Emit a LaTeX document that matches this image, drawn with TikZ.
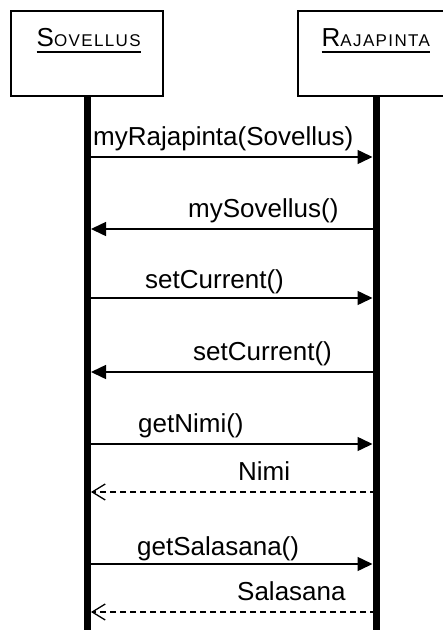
\documentclass[tikz,border=0pt]{standalone}
\usepackage{fontspec}
\setmainfont{Liberation Sans}
\newfontfamily\hdrfont[LetterSpace=8]{Liberation Sans}
\usetikzlibrary{arrows.meta}
\begin{document}
\begin{tikzpicture}[x=1pt,y=-1pt,
  objbox/.style={draw, line width=2.5pt, minimum width=152pt, minimum height=85pt, inner sep=0pt},
  lifeline/.style={line width=7pt},
  call/.style={line width=1.5pt, -{Triangle[length=15pt,width=14pt]}},
  reply/.style={line width=1.5pt, dash pattern=on 6pt off 4pt, -{Straight Barb[length=13pt,width=16pt,line width=1.3pt]}},
  msg/.style={font=\fontsize{26}{30}\selectfont, anchor=base west, inner sep=0pt},
  hdr/.style={anchor=base west, inner sep=0pt},
  uline/.style={line width=1.5pt}]
\useasboundingbox (0,0) rectangle (443,630);
\node[objbox] (sov) at (87,53.5) {};
\node[objbox] (raj) at (374,53.5) {};
\node[hdr] (sovt) at (36.5,46.5) {\fontsize{26}{30}\selectfont S{\hdrfont\fontsize{17}{20}\selectfont OVELLUS}};
\node[hdr] (rajt) at (321.5,46.5) {\fontsize{26}{30}\selectfont R{\hdrfont\fontsize{17}{20}\selectfont AJAPINTA}};
\draw[uline] ([yshift=-5.5pt]sovt.base west) -- ([yshift=-5.5pt]sovt.base east);
\draw[uline] ([yshift=-5.5pt]rajt.base west) -- ([yshift=-5.5pt]rajt.base east);
% lifelines
\coordinate (sovEnd) at (87.5,632);
\coordinate (rajEnd) at (376,632);
\coordinate (sovTop) at (87.5,96);
\coordinate (rajTop) at (376,96);
\draw[lifeline] (sovTop) -- (sovEnd);
\draw[lifeline] (rajTop) -- (rajEnd);
% message endpoints
\coordinate (m1a) at (84,157);   \coordinate (m1b) at (372.5,157);
\coordinate (m2a) at (376,229);  \coordinate (m2b) at (91,229);
\coordinate (m3a) at (84,298);   \coordinate (m3b) at (372.5,298);
\coordinate (m4a) at (376,372);  \coordinate (m4b) at (91,372);
\coordinate (m5a) at (84,444);   \coordinate (m5b) at (372.5,444);
\coordinate (m6a) at (376,492);  \coordinate (m6b) at (91,492);
\coordinate (m7a) at (84,564);   \coordinate (m7b) at (372.5,564);
\coordinate (m8a) at (376,612);  \coordinate (m8b) at (91,612);
\draw[call] (m1a) -- (m1b);
\draw[call] (m2a) -- (m2b);
\draw[call] (m3a) -- (m3b);
\draw[call] (m4a) -- (m4b);
\draw[call] (m5a) -- (m5b);
\draw[reply] (m6a) -- (m6b);
\draw[call] (m7a) -- (m7b);
\draw[reply] (m8a) -- (m8b);
% labels
\node[msg] (l1) at (93,145) {myRajapinta(Sovellus)};
\node[msg] (l2) at (188,217) {mySovellus()};
\node[msg] (l3) at (145,288) {setCurrent()};
\node[msg] (l4) at (193,360) {setCurrent()};
\node[msg] (l5) at (138,432) {getNimi()};
\node[msg] (l6) at (238,480) {Nimi};
\node[msg] (l7) at (137,555) {getSalasana()};
\node[msg] (l8) at (237,600) {Salasana};
\end{tikzpicture}
\end{document}
